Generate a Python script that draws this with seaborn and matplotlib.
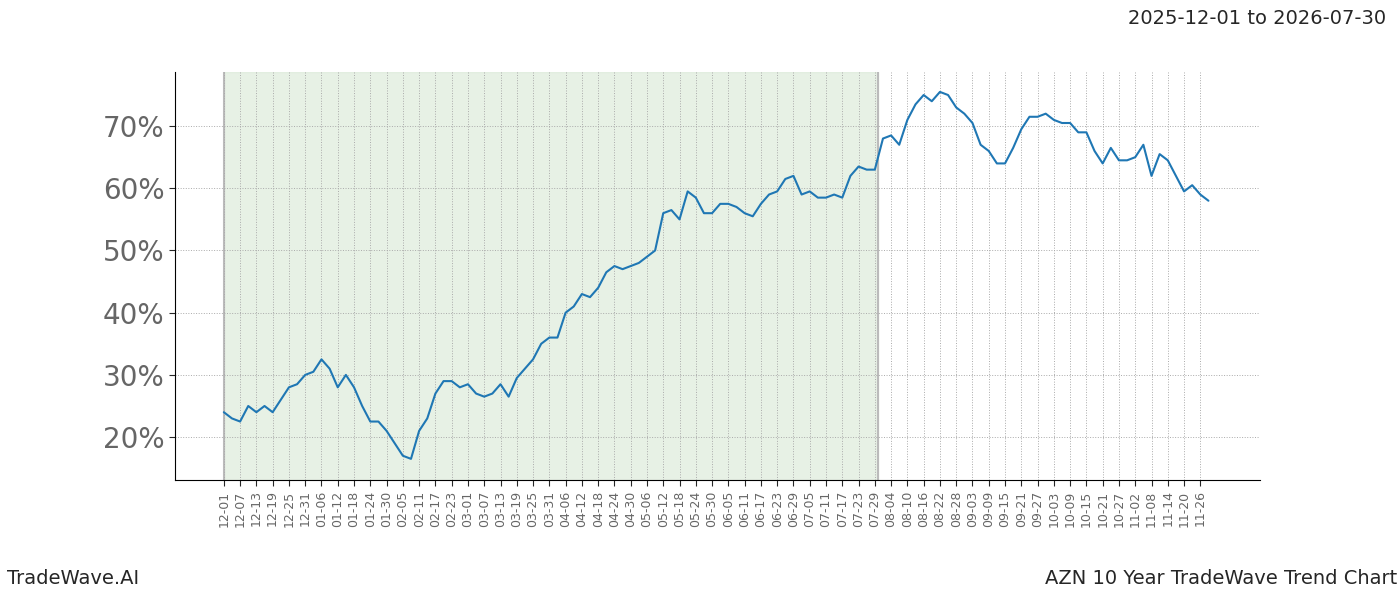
import matplotlib
matplotlib.use("Agg")
import matplotlib.pyplot as plt
import seaborn as sns
import pandas as pd

values = [24,23,22.5,25,24,25,24,26,28,28.5,30,30.5,32.5,31,28,30,28,25,22.5,22.5,
          21,19,17,16.5,21,23,27,29,29,28,28.5,27,26.5,27,28.5,26.5,29.5,31,32.5,35,
          36,36,40,41,43,42.5,44,46.5,47.5,47,47.5,48,49,50,56,56.5,55,59.5,58.5,56,
          56,57.5,57.5,57,56,55.5,57.5,59,59.5,61.5,62,59,59.5,58.5,58.5,59,58.5,62,63.5,63,
          63,68,68.5,67,71,73.5,75,74,75.5,75,73,72,70.5,67,66,64,64,66.5,69.5,71.5,
          71.5,72,71,70.5,70.5,69,69,66,64,66.5,64.5,64.5,65,67,62,65.5,64.5,62,59.5,60.5,
          59,58]
start_date = "2025-12-01"
shade_start, shade_end = "2025-12-01", "2026-07-30"
dates = pd.date_range(start_date, periods=len(values), freq="3D")
df = pd.DataFrame({"date": dates, "value": values})
ticks = pd.date_range("2025-12-01", "2026-11-26", freq="6D")

sns.set_style("white")
fig = plt.figure(figsize=(14, 6), dpi=100)
ax = fig.add_axes([0.125, 0.2, 0.775, 0.68])
ax.axvspan(pd.Timestamp(shade_start), pd.Timestamp(shade_end), color="#d8e8d4", alpha=0.6, zorder=0)
ax.axvline(pd.Timestamp(shade_start), color="#bbbbbb", lw=1.5, zorder=0)
ax.axvline(pd.Timestamp(shade_end), color="#bbbbbb", lw=1.5, zorder=0)
sns.lineplot(data=df, x="date", y="value", ax=ax, color="#1f77b4", lw=1.5)
ax.set_xticks(ticks)
ax.set_xticklabels([t.strftime("%m-%d") for t in ticks], rotation=90, fontsize=9, color="#666666")
ax.set_yticks([20, 30, 40, 50, 60, 70])
ax.set_yticklabels([f"{v}%" for v in [20, 30, 40, 50, 60, 70]], fontsize=20, color="#666666")
ax.set_xlim(pd.Timestamp("2025-12-01") - pd.Timedelta(days=18), pd.Timestamp("2025-12-01") + pd.Timedelta(days=382))
ax.set_ylim(13.1, 78.7)
ax.grid(True, color="#aaaaaa", linestyle=":", linewidth=0.7)
ax.set_xlabel(""); ax.set_ylabel("")
for s in ["top", "right"]:
    ax.spines[s].set_visible(False)
for s in ["left", "bottom"]:
    ax.spines[s].set_color("black")
ax.tick_params(axis="both", length=4, left=True, bottom=True)
fig.text(0.99, 0.97, "2025-12-01 to 2026-07-30", ha="right", va="center", fontsize=14)
fig.text(0.005, 0.02, "TradeWave.AI", ha="left", va="bottom", fontsize=14)
fig.text(0.998, 0.02, "AZN 10 Year TradeWave Trend Chart", ha="right", va="bottom", fontsize=14)
fig.savefig("out.png", dpi=100)
